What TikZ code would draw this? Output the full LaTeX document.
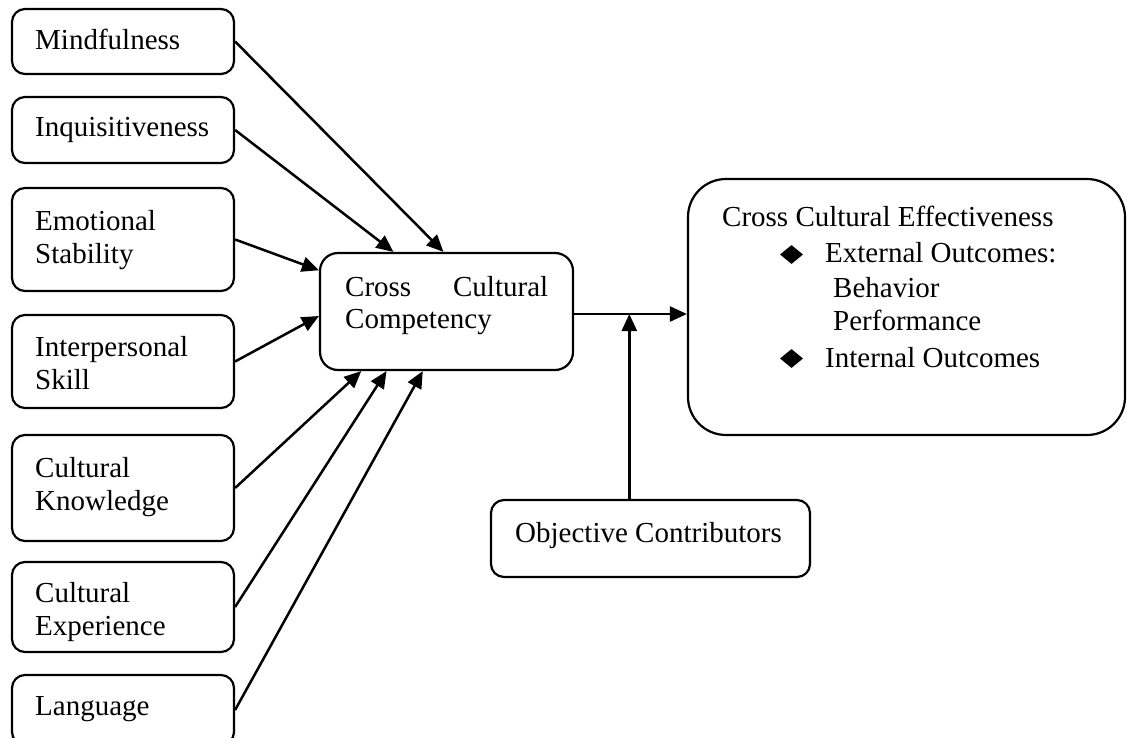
\documentclass[tikz,border=0pt]{standalone}
\usepackage{fontspec}
\setmainfont{Liberation Serif}
\usetikzlibrary{arrows.meta,calc,shapes.geometric}
\begin{document}
\begin{tikzpicture}[x=1pt,y=-1pt,
  box/.style={draw, line width=2.2pt, rounded corners=13pt, inner sep=0pt},
  factor/.style={box, minimum width=222pt},
  lbl/.style={inner sep=0pt, anchor=base west, font=\fontsize{29}{33}\selectfont},
  link/.style={line width=2.5pt, -{Triangle[length=17pt,width=15pt]}},
  bullet/.style={diamond, fill=black, inner sep=0pt, minimum width=23pt, minimum height=19pt}
]
\useasboundingbox (0,0) rectangle (1127,738);

% antecedent factors
\node[factor, minimum height=65pt]  (m) at (123,41.5) {};
\node[factor, minimum height=66pt]  (q) at (123,130) {};
\node[factor, minimum height=103pt] (e) at (123,239.5) {};
\node[factor, minimum height=93pt]  (p) at (123,361.5) {};
\node[factor, minimum height=106pt] (k) at (123,488) {};
\node[factor, minimum height=90pt]  (x) at (123,607) {};
\node[factor, minimum height=70pt]  (l) at (123,710) {};

\node[lbl] (mt)  at (35,50)  {Mindfulness};
\node[lbl] (qt)  at (35,137) {Inquisitiveness};
\node[lbl] (et1) at (35,230) {Emotional};
\node[lbl] (et2) at (35,263) {Stability};
\node[lbl] (pt1) at (35,356) {Interpersonal};
\node[lbl] (pt2) at (35,389) {Skill};
\node[lbl] (kt1) at (35,477) {Cultural};
\node[lbl] (kt2) at (35,510) {Knowledge};
\node[lbl] (xt1) at (35,602) {Cultural};
\node[lbl] (xt2) at (35,635) {Experience};
\node[lbl] (lt)  at (35,715) {Language};

% competency
\node[box, rounded corners=18pt, minimum width=253pt, minimum height=117pt] (ccc) at (446.5,311.5) {};
\node[lbl] (ct1) at (345,296) {\makebox[203pt]{Cross\hfill Cultural}};
\node[lbl] (ct2) at (345,328) {Competency};

% effectiveness
\node[box, rounded corners=38pt, minimum width=437pt, minimum height=256pt] (cce) at (906.5,307) {};
\node[lbl] (ft0) at (722,227) {Cross Cultural Effectiveness};
\node[bullet] (d1) at (791.5,254.5) {};
\node[lbl] (ft1) at (825,262) {External Outcomes:};
\node[lbl] (ft2) at (833,297) {Behavior};
\node[lbl] (ft3) at (833,330) {Performance};
\node[bullet] (d2) at (791.5,358.5) {};
\node[lbl] (ft4) at (825,367) {Internal Outcomes};

% moderator
\node[box, minimum width=319pt, minimum height=77pt] (obj) at (650.5,538.5) {};
\node[lbl] (ot) at (515,542) {Objective Contributors};

% connectors into the competency box
\draw[link] (m.east) -- ($(ccc.north west)!0.488!(ccc.north east)$);
\draw[link] (q.east) -- ($(ccc.north west)!0.292!(ccc.north east)$);
\draw[link] (e.east) -- ($(ccc.north west)!0.154!(ccc.south west)$);
\draw[link] (p.east) -- ($(ccc.north west)!0.538!(ccc.south west)$);
\draw[link] (k.east) -- ($(ccc.south west)!0.166!(ccc.south east)$);
\draw[link] (x.east) -- ($(ccc.south west)!0.265!(ccc.south east)$);
\draw[link] (l.east) -- ($(ccc.south west)!0.407!(ccc.south east)$);

% competency to effectiveness, with the moderating arrow
\coordinate (j) at ($(ccc.east)+(0,2.5)$);
\draw[link] (j) -- (j -| cce.west);
\coordinate (o) at ($(obj.north west)!0.434!(obj.north east)$);
\draw[link] (o) -- (o |- j);
\end{tikzpicture}
\end{document}
